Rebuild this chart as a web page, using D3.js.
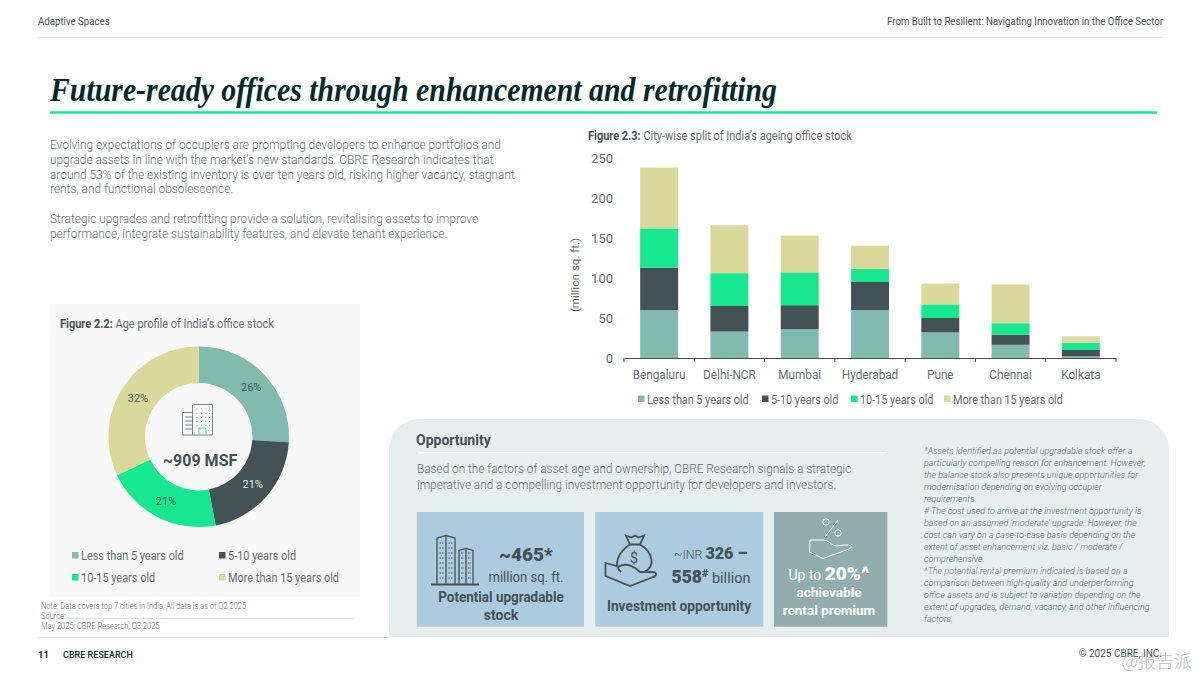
<!DOCTYPE html>
<html><head><meta charset="utf-8">
<script src="https://cdn.jsdelivr.net/npm/d3@7/dist/d3.min.js"></script>
<style>
html,body{margin:0;padding:0;background:#fff}
svg{display:block}
text{font-family:Roboto,sans-serif}
</style></head><body>
<svg id="c" width="1200" height="675"></svg>
<script>
const cities = ["Bengaluru","Delhi-NCR","Mumbai","Hyderabad","Pune","Chennai","Kolkata"];
const ageBands = ["Less than 5 years old","5-10 years old","10-15 years old","More than 15 years old"];
const under5 = [60,33,36,60,32,16.5,2];
const from5to10 = [53,32,30,35,18,12.5,8];
const from10to15 = [49,41,41,16.5,17,14.5,9];
const over15 = [76,60,46,29,26,48.5,8];
const yTicks = [0,50,100,150,200,250];
const shareValues = [26,21,21,32];
const shareLabels = ["26%","21%","21%","32%"];
const bandColors = ["#80BBAD","#435254","#17E88F","#DBD99A"];
const shareLabelColors = ["#435254","#E6EFEE","#435254","#435254"];
const introLines = ["Evolving expectations of occupiers are prompting developers to enhance portfolios and",
"upgrade assets in line with the market\u2019s new standards. CBRE Research indicates that",
"around 53% of the existing inventory is over ten years old, risking higher vacancy, stagnant",
"rents, and functional obsolescence.","",
"Strategic upgrades and retrofitting provide a solution, revitalising assets to improve",
"performance, integrate sustainability features, and elevate tenant experience."];
const footnotes = ["*Assets identified as potential upgradable stock offer a",
"particularly compelling reason for enhancement. However,",
"the balance stock also presents unique opportunities for",
"modernisation depending on evolving occupier",
"requirements.",
"# The cost used to arrive at the investment opportunity is",
"based on an assumed \u2018moderate\u2019 upgrade. However, the",
"cost can vary on a case-to-case basis depending on the",
"extent of asset enhancement viz. basic / moderate /",
"comprehensive.",
"^The potential rental premium indicated is based on a",
"comparison between high-quality and underperforming",
"office assets and is subject to variation depending on the",
"extent of upgrades, demand, vacancy, and other influencing",
"factors."];

const svg = d3.select("#c");
const TXT="#5F6F70", DARK="#435254";
function squeeze(sel,k){
  sel.each(function(){ const n=this.getComputedTextLength();
    d3.select(this).attr("textLength",n*k).attr("lengthAdjust","spacingAndGlyphs"); });
  return sel;
}
function t(x,y,s,o={}){
  const e=svg.append("text").attr("x",x).attr("y",y).text(s)
   .attr("font-size",o.size||13).attr("fill",o.fill||TXT).attr("font-weight",o.weight||400);
  if(o.anchor)e.attr("text-anchor",o.anchor);
  if(o.style)e.attr("font-style",o.style);
  if(o.family)e.style("font-family",o.family);
  if(o.w)e.attr("textLength",o.w).attr("lengthAdjust","spacingAndGlyphs");
  if(o.k&&s)squeeze(e,o.k);
  return e;
}
function rect(x,y,w,h,f){return svg.append("rect").attr("x",x).attr("y",y).attr("width",w).attr("height",h).attr("fill",f);}
function line(x1,y1,x2,y2,c,w){return svg.append("line").attr("x1",x1).attr("y1",y1).attr("x2",x2).attr("y2",y2).attr("stroke",c).attr("stroke-width",w);}

// Header
t(38,25,"Adaptive Spaces",{size:10.5,fill:DARK,k:.92});
t(1163,25,"From Built to Resilient: Navigating Innovation in the Office Sector",{size:10.5,fill:DARK,anchor:"end",k:.92});
line(38,37.5,1163,37.5,"#E3E6E6",1);
t(50,101,"Future-ready offices through enhancement and retrofitting",{size:33.5,weight:700,style:"italic",fill:"#012A2D",family:"'Liberation Serif',serif",w:727});
line(50,112.5,1157,112.5,"#17E88F",2.5);

// Intro
introLines.forEach((s,i)=>{ if(s) t(50,149+i*14.83,s,{size:13,weight:300,k:.913}); });

// Donut panel
rect(50,304,310,293,"#F8F8F8");
const ft=t(60,328,"",{size:12,fill:TXT});
ft.append("tspan").attr("font-weight",700).attr("fill",DARK).text("Figure 2.2: ");
ft.append("tspan").text("Age profile of India\u2019s office stock");
squeeze(ft,.915);

const pie=d3.pie().sort(null).value(d=>d)(shareValues);
const arc=d3.arc().innerRadius(53.7).outerRadius(90.3);
const dg=svg.append("g").attr("transform","translate(198.7,436.7)");
dg.selectAll("path").data(pie).join("path").attr("d",arc).attr("fill",(d,i)=>bandColors[i]);
dg.selectAll("text").data(pie).join("text")
  .attr("x",d=>arc.centroid(d)[0]).attr("y",d=>arc.centroid(d)[1]+4)
  .attr("text-anchor","middle").attr("font-size",11)
  .attr("fill",(d,i)=>shareLabelColors[i]).text((d,i)=>shareLabels[i]);
t(200,466,"~909 MSF",{size:16,weight:700,fill:DARK,anchor:"middle"});

// Building icon
const bi=svg.append("g").attr("transform","translate(182,404)").attr("fill","none").attr("stroke","#6B7879").attr("stroke-width",0.9);
bi.append("path").attr("d","M10.5 31V0.5H30.5V31H0.5V8.5H10.5M3.5 13H10.5V17H3.5M3.5 21H10.5V25H3.5");
bi.append("path").attr("d","M17 31V24H24V31").attr("stroke","#17E88F");
[14.5,19,23.5,27].forEach(x=>[4.5,9,13,17,21].forEach(y=>{ bi.append("rect").attr("x",x).attr("y",y).attr("width",.8).attr("height",.8).attr("fill","#6B7879").attr("stroke","none");}));

// Donut legend
const dlx=[72,219,72,219], dly=[552,552,574,574];
ageBands.forEach((b,i)=>{ rect(dlx[i],dly[i],6.5,6.5,bandColors[i]); t(dlx[i]+9,dly[i]+8,b,{size:12,k:.91}); });

// Notes
t(41,609,"Note: Data covers top 7 cities in India; All data is as of Q2 2025",{size:8.5,weight:300,k:.887});
t(41,619,"Source:",{size:8.5,weight:300,k:.887});
line(68,618.5,354,618.5,"#CFE3E2",1);
t(41,629,"May 2025; CBRE Research, Q3 2025",{size:8.5,weight:300,k:.887});

// Bar chart
const t2=t(588,140,"",{size:12});
t2.append("tspan").attr("font-weight",700).attr("fill",DARK).text("Figure 2.3: ");
t2.append("tspan").text("City-wise split of India\u2019s ageing office stock");
squeeze(t2,.913);
const x=d3.scaleBand().domain(cities).range([624,1116]).paddingInner(0.46).paddingOuter(0.23);
const y=d3.scaleLinear().domain([0,250]).range([358,158]);
const rows=cities.map((c,i)=>({city:c,[ageBands[0]]:under5[i],[ageBands[1]]:from5to10[i],[ageBands[2]]:from10to15[i],[ageBands[3]]:over15[i]}));
const stack=d3.stack().keys(ageBands)(rows);
svg.append("g").selectAll("g").data(stack).join("g").attr("fill",(d,i)=>bandColors[i])
  .selectAll("rect").data(d=>d).join("rect")
  .attr("x",d=>x(d.data.city)).attr("width",x.bandwidth())
  .attr("y",d=>y(d[1])).attr("height",d=>y(d[0])-y(d[1]));
const ya=svg.append("g").attr("transform","translate(613,0)")
  .call(d3.axisLeft(y).tickValues(yTicks).tickSize(0).tickPadding(0));
ya.select(".domain").remove();
ya.selectAll("text").attr("font-size",13).attr("fill",TXT).style("font-family","Roboto,sans-serif");
const xa=svg.append("g").attr("transform","translate(0,358)")
  .call(d3.axisBottom(x).tickSize(0).tickPadding(12));
xa.select(".domain").attr("stroke",DARK).attr("stroke-width",1.2);
xa.selectAll("text").attr("font-size",12.5).attr("fill",TXT).style("font-family","Roboto,sans-serif");
squeeze(xa.selectAll("text"),.94);
d3.range(cities.length+1).forEach(i=>{
  const px=x.range()[0]+i*x.step();
  xa.append("line").attr("x1",px).attr("x2",px).attr("y1",0).attr("y2",4).attr("stroke",DARK).attr("stroke-width",1);
});
t(0,0,"(million sq. ft.)",{size:11.5,anchor:"middle"}).attr("transform","translate(579,275) rotate(-90)");
const blx=[638,762,851,944];
ageBands.forEach((b,i)=>{ rect(blx[i],395.5,6.5,6.5,bandColors[i]); t(blx[i]+9,404,b,{size:12,k:.9}); });

// Opportunity panel
svg.append("path").attr("fill","#E6EFEE").attr("d","M389 637V449A30 30 0 0 1 419 419H1139A30 30 0 0 1 1169 449V637Z");
t(416,445,"Opportunity",{size:14,weight:700,fill:DARK});
line(418,452.7,887,452.7,"#fff",1.5);
t(417,473,"Based on the factors of asset age and ownership, CBRE Research signals a strategic",{size:13.2,weight:300,k:.895});
t(417,489,"imperative and a compelling investment opportunity for developers and investors.",{size:13.2,weight:300,k:.895});
rect(416.7,512,167.3,114.7,"#ACCBDF");
rect(595.3,512,168,114.7,"#ACCBDF");
rect(774,512,113.3,114.7,"#92ADB0");

// tower icon
const ti=svg.append("g").attr("transform","translate(431,535)").attr("fill","none").attr("stroke",DARK).attr("stroke-width",1.3);
ti.append("path").attr("d","M0 49.5H48").attr("stroke-width",1.8);
ti.append("path").attr("d","M6 49V3L15 0.5L24 3V49M15 0.5V49M28 49V15.5L35 13.5L42 15.5V49M35 13.5V49");
[8,13,18,23,28,33,38,43].forEach(yy=>{
  ti.append("path").attr("d",`M8.5 ${yy}H12.5M17.5 ${yy}H21.5`).attr("stroke-dasharray","1.5 1").attr("stroke-width",1);
  if(yy>13) ti.append("path").attr("d",`M30 ${yy}H33M37 ${yy}H40`).attr("stroke-dasharray","1.5 1").attr("stroke-width",1);
});
t(526,561,"~465*",{size:19,weight:900,fill:DARK,anchor:"middle"});
t(526,582,"million sq. ft.",{size:14,weight:400,fill:DARK,anchor:"middle",k:.93});
t(501,602,"Potential upgradable",{size:14,weight:700,fill:DARK,anchor:"middle",k:.96});
t(501,620,"stock",{size:14,weight:700,fill:DARK,anchor:"middle"});

// money icon
const mi=svg.append("g").attr("transform","translate(605,534)").attr("fill","none").attr("stroke",DARK).attr("stroke-width",1.8);
mi.append("path").attr("d","M21 1.5L26.5 3.5L30 1.5L33.5 3.5L39 1.5L35 10.5H25Z");
mi.append("path").attr("d","M25 10.5C13 18 8 31 16 38M35 10.5C48 18 51 33 39 38");
mi.append("path").attr("d","M0.5 29L14 32.5C21 28 30 33 35 38H47C52.5 38 52.5 42 47 43.5L25 52L0.5 42Z");
t(634,563,"$",{size:15,fill:DARK,anchor:"middle"});
const l1=t(674,559,"",{size:13,fill:DARK,weight:300});
l1.append("tspan").text("~INR ");
l1.append("tspan").attr("font-weight",900).attr("font-size",17).text("326 \u2013");
squeeze(l1,.95);
const l2=t(671.5,583,"",{size:14.5,fill:DARK});
l2.append("tspan").attr("font-weight",900).attr("font-size",17.5).text("558");
l2.append("tspan").attr("font-weight",900).attr("font-size",11).attr("dy",-6).text("#");
l2.append("tspan").attr("dy",6).text(" billion");
t(679,611,"Investment opportunity",{size:14,weight:700,fill:DARK,anchor:"middle",k:.98});

// percent icon
const pi=svg.append("g").attr("transform","translate(809,518)").attr("fill","none").attr("stroke","#fff").attr("stroke-width",1);
pi.append("circle").attr("cx",17).attr("cy",4).attr("r",3.2);
pi.append("circle").attr("cx",29).attr("cy",15).attr("r",3.2);
pi.append("path").attr("d","M29 2L16 19");
pi.append("path").attr("d","M1 22H14C20 22 22 27 27 28L38 27C43 27 43 30 40 31L14 40.5L0.5 34Z");
const l3=t(829,580,"",{size:14,fill:"#fff",anchor:"middle"});
l3.append("tspan").text("Up to ");
l3.append("tspan").attr("font-weight",900).attr("font-size",19).text("20%^");
t(829,597,"achievable",{size:13.5,weight:700,fill:"#fff",anchor:"middle"});
t(829,615,"rental premium",{size:13.5,weight:700,fill:"#fff",anchor:"middle"});

// Footnotes
footnotes.forEach((s,i)=>t(924,454+i*11.97,s,{size:9.6,weight:300,style:"italic",k:.937}));

// Footer
line(38,637.5,389,637.5,"#E3E6E6",1);
t(38,658,"11",{size:9.5,weight:700,fill:"#012A2D"});
t(63,658,"CBRE RESEARCH",{size:9.5,weight:500,fill:"#012A2D",k:.95});
t(1162,657,"\u00a9 2025 CBRE, INC.",{size:10,fill:DARK,anchor:"end"});
t(1192,668,"@报告派",{size:18,fill:"#B5B5B5",anchor:"end",family:"'Noto Sans CJK SC',sans-serif",weight:300}).attr("opacity",.85);
</script></body></html>
